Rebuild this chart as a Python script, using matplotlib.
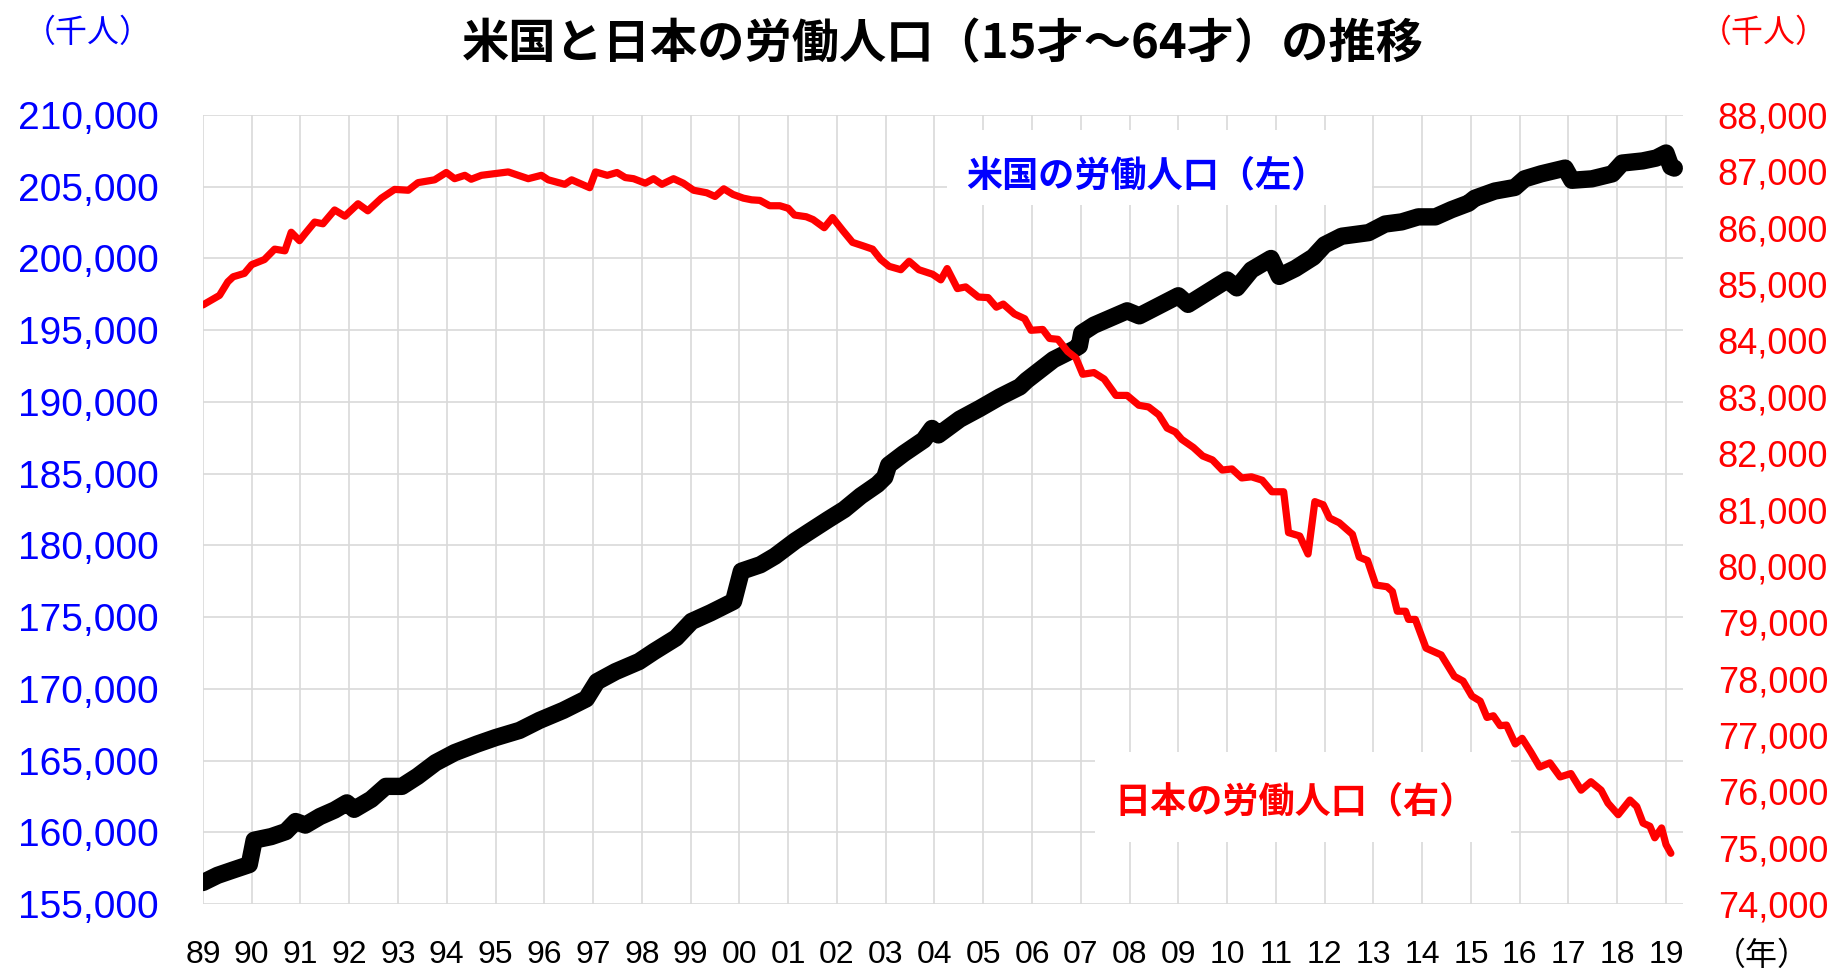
import matplotlib
matplotlib.use("Agg")
from matplotlib import pyplot as plt
from matplotlib.patches import Rectangle
from matplotlib.ticker import FuncFormatter

# US working-age population (thousand)
us_year = [1989.0, 1989.3, 1989.6, 1989.95, 1990.05, 1990.4, 1990.7, 1990.9, 1991.1, 1991.4,
           1991.7, 1991.95, 1992.1, 1992.45, 1992.75, 1993.08, 1993.4, 1993.77, 1994.16, 1994.62,
           1995.0, 1995.49, 1995.9, 1996.39, 1996.86, 1997.08, 1997.46, 1997.94, 1998.25, 1998.7,
           1999.02, 1999.41, 1999.88, 2000.04, 2000.43, 2000.73, 2001.14, 2001.41, 2001.82, 2002.15,
           2002.49, 2002.83, 2002.98, 2003.06, 2003.37, 2003.78, 2003.95, 2004.08, 2004.52, 2004.93,
           2005.34, 2005.75, 2005.89, 2006.44, 2006.85, 2006.97, 2007.02, 2007.27, 2007.95, 2008.2,
           2009.0, 2009.2, 2010.0, 2010.2, 2010.5, 2010.9, 2011.07, 2011.4, 2011.77, 2012.0,
           2012.35, 2012.9, 2013.24, 2013.58, 2013.92, 2014.27, 2014.6, 2014.95, 2015.08, 2015.49,
           2015.9, 2016.1, 2016.44, 2016.93, 2017.07, 2017.48, 2017.9, 2018.1, 2018.52, 2018.8,
           2019.0, 2019.1, 2019.17]
us_pop = [156500, 157000, 157350, 157750, 159450, 159700, 160050, 160750, 160500, 161100,
          161550, 162050, 161600, 162300, 163200, 163200, 163900, 164850, 165550, 166150,
          166600, 167100, 167800, 168500, 169300, 170500, 171200, 171900, 172600, 173550,
          174700, 175300, 176100, 178200, 178650, 179250, 180300, 180900, 181800, 182500,
          183450, 184250, 184750, 185600, 186400, 187350, 188150, 187700, 188800, 189550,
          190350, 191050, 191500, 192950, 193650, 193900, 194800, 195350, 196350, 196000,
          197400, 196800, 198500, 197950, 199200, 200000, 198750, 199300, 200100, 200950,
          201550, 201800, 202400, 202550, 202900, 202900, 203400, 203850, 204200, 204700,
          204950, 205550, 205900, 206300, 205450, 205550, 205900, 206650, 206800, 207000,
          207350, 206400, 206300]

# Japan working-age population (thousand)
jp_year = [1989.0, 1989.34, 1989.51, 1989.62, 1989.85, 1990.0, 1990.26, 1990.47, 1990.68, 1990.81,
           1990.98, 1991.09, 1991.29, 1991.46, 1991.7, 1991.91, 1992.18, 1992.38, 1992.66, 1992.93,
           1993.21, 1993.41, 1993.75, 1993.99, 1994.16, 1994.37, 1994.5, 1994.71, 1995.26, 1995.67,
           1995.94, 1996.08, 1996.42, 1996.56, 1996.93, 1997.05, 1997.29, 1997.49, 1997.66, 1997.83,
           1998.07, 1998.24, 1998.41, 1998.65, 1998.85, 1999.06, 1999.33, 1999.5, 1999.68, 1999.87,
           2000.08, 2000.25, 2000.42, 2000.62, 2000.83, 2001.0, 2001.13, 2001.37, 2001.51, 2001.74,
           2001.91, 2002.12, 2002.32, 2002.53, 2002.73, 2002.9, 2003.07, 2003.31, 2003.48, 2003.68,
           2003.96, 2004.13, 2004.26, 2004.47, 2004.64, 2004.9, 2005.1, 2005.27, 2005.41, 2005.64,
           2005.85, 2005.98, 2006.22, 2006.36, 2006.53, 2006.73, 2006.9, 2007.04, 2007.27, 2007.48,
           2007.72, 2007.95, 2008.19, 2008.39, 2008.6, 2008.77, 2008.94, 2009.07, 2009.31, 2009.5,
           2009.7, 2009.9, 2010.1, 2010.3, 2010.5, 2010.72, 2010.92, 2011.16, 2011.26, 2011.49,
           2011.66, 2011.8, 2011.97, 2012.1, 2012.3, 2012.57, 2012.71, 2012.88, 2013.05, 2013.28,
           2013.39, 2013.49, 2013.66, 2013.72, 2013.86, 2014.08, 2014.39, 2014.66, 2014.84, 2015.02,
           2015.19, 2015.33, 2015.46, 2015.6, 2015.73, 2015.91, 2016.05, 2016.23, 2016.41, 2016.62,
           2016.83, 2017.05, 2017.26, 2017.46, 2017.67, 2017.81, 2018.02, 2018.26, 2018.4, 2018.53,
           2018.67, 2018.77, 2018.91, 2019.0, 2019.1]
jp_pop = [84630, 84800, 85040, 85130, 85190, 85345, 85435, 85620, 85590, 85920,
          85770, 85890, 86100, 86070, 86315, 86205, 86425, 86300, 86525, 86680,
          86665, 86800, 86850, 86980, 86870, 86930, 86860, 86930, 86990, 86870,
          86930, 86850, 86770, 86850, 86710, 86990, 86930, 86980, 86890, 86870,
          86790, 86870, 86770, 86870, 86790, 86665, 86620, 86555, 86690, 86590,
          86525, 86495, 86485, 86390, 86390, 86345, 86225, 86195, 86145, 86000,
          86180, 85950, 85740, 85680, 85620, 85435, 85315, 85255, 85405, 85255,
          85175, 85075, 85275, 84920, 84950, 84770, 84760, 84590, 84645, 84470,
          84385, 84180, 84195, 84035, 84020, 83805, 83690, 83400, 83430, 83315,
          83025, 83025, 82850, 82820, 82680, 82445, 82375, 82245, 82100, 81950,
          81880, 81700, 81720, 81560, 81580, 81520, 81315, 81315, 80590, 80530,
          80210, 81140, 81085, 80850, 80765, 80560, 80155, 80095, 79660, 79630,
          79545, 79195, 79195, 79050, 79050, 78540, 78420, 78040, 77955, 77690,
          77600, 77310, 77340, 77165, 77175, 76840, 76940, 76695, 76430, 76505,
          76255, 76315, 76020, 76170, 76020, 75790, 75585, 75845, 75730, 75435,
          75380, 75175, 75350, 75055, 74900]

left_ticks = list(range(155000, 210001, 5000))
right_ticks = list(range(74000, 88001, 1000))
year_ticks = list(range(1989, 2020))
year_labels = ["{:02d}".format(y % 100) for y in year_ticks]

BLUE = "#0000ff"
RED = "#ff0000"
GRID = "#d9d9d9"
JP_FONT = ["Noto Sans CJK JP", "DejaVu Sans"]

plt.rcParams["font.family"] = ["Liberation Sans", "DejaVu Sans"]

fig = plt.figure(figsize=(18.35, 9.73), dpi=100)
ax = fig.add_axes([0.1106, 0.0709, 0.8066, 0.8109])
ax2 = ax.twinx()

ax.set_xlim(1989, 2019.35)
ax.set_ylim(155000, 210000)
ax2.set_ylim(74000, 88000)

ax.set_axisbelow(True)
ax.grid(True, color=GRID, linewidth=1.2)
for a in (ax, ax2):
    for s in a.spines.values():
        s.set_visible(False)

# white boxes behind the series labels
ax.add_patch(Rectangle((0.503, 0.886), 0.287, 0.095, transform=ax.transAxes,
                       facecolor="white", edgecolor="none", zorder=1))
ax.add_patch(Rectangle((0.603, 0.079), 0.281, 0.114, transform=ax.transAxes,
                       facecolor="white", edgecolor="none", zorder=1))

ax.plot(us_year, us_pop, color="black", linewidth=12.5, solid_joinstyle="round",
        solid_capstyle="round", zorder=2)
ax2.plot(jp_year, jp_pop, color=RED, linewidth=5.2, solid_joinstyle="round",
         solid_capstyle="round", zorder=3)

ax.set_xticks(year_ticks)
ax.set_xticklabels(year_labels)
ax.set_yticks(left_ticks)
ax2.set_yticks(right_ticks)
fmt = FuncFormatter(lambda v, p: "{:,}".format(int(v)))
ax.yaxis.set_major_formatter(fmt)
ax2.yaxis.set_major_formatter(fmt)

ax.tick_params(axis="x", length=0, pad=26, labelsize=23, labelcolor="black")
ax.tick_params(axis="y", length=0, pad=32, labelsize=28, labelcolor=BLUE)
ax2.tick_params(axis="y", length=0, pad=25, labelsize=26, labelcolor=RED)

fig.text(0.514, 0.954, "米国と日本の労働人口（15才～64才）の推移", ha="center", va="center",
         fontsize=34, fontweight="bold", family=JP_FONT)
fig.text(0.048, 0.966, "（千人）", ha="center", va="center", fontsize=23,
         color=BLUE, family=JP_FONT)
fig.text(0.961, 0.966, "（千人）", ha="center", va="center", fontsize=23,
         color=RED, family=JP_FONT)
fig.text(0.960, 0.0175, "（年）", ha="center", va="center", fontsize=23,
         color="black", family=JP_FONT)
fig.text(0.625, 0.8196, "米国の労働人口（左）", ha="center", va="center", fontsize=26,
         fontweight="bold", color=BLUE, family=JP_FONT)
fig.text(0.7057, 0.1762, "日本の労働人口（右）", ha="center", va="center", fontsize=26,
         fontweight="bold", color=RED, family=JP_FONT)

fig.savefig("out.png", dpi=100)
